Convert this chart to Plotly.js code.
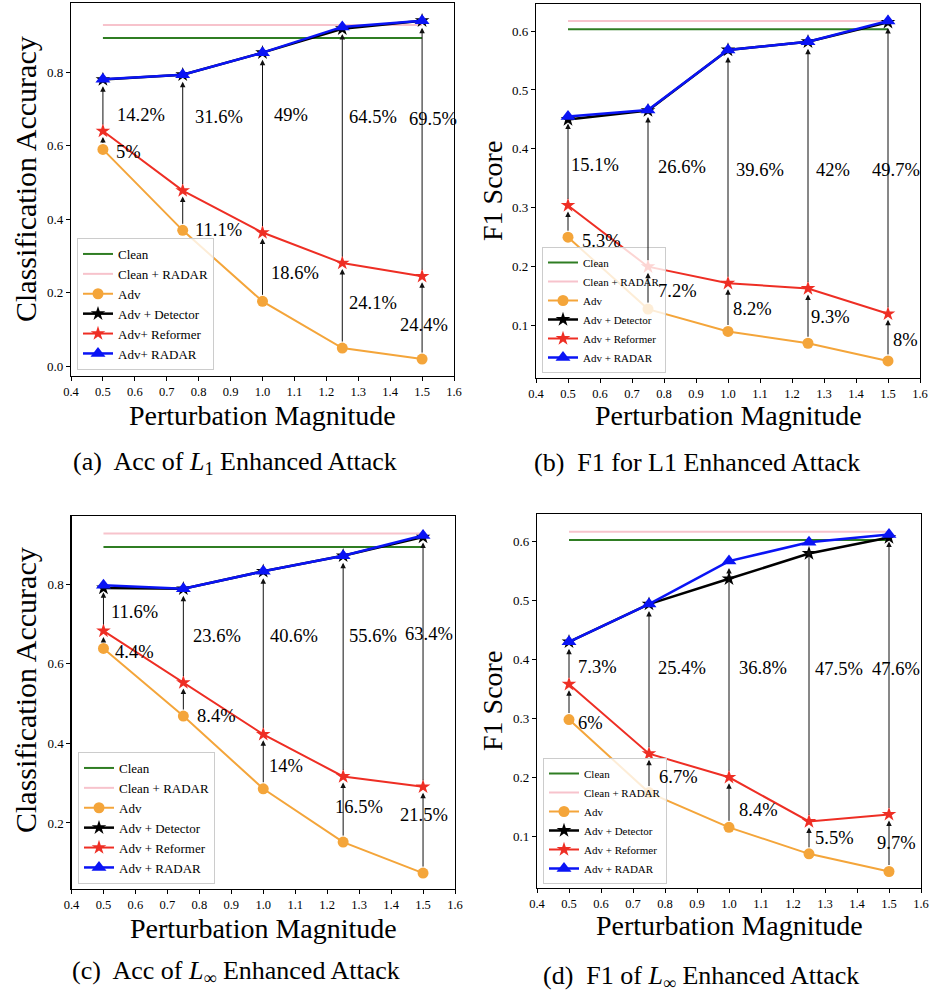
<!DOCTYPE html>
<html>
<head>
<meta charset="utf-8">
<script src="https://cdn.plot.ly/plotly-3.0.1.min.js"></script>
<style>
html,body{margin:0;padding:0;background:#fff;}
#chart{width:932px;height:993px;}
</style>
</head>
<body>
<div id="chart"></div>
<script>
// ---------------- DATA ----------------
const magnitudes = [0.5, 0.75, 1.0, 1.25, 1.5];

// (a) Acc of L1 Enhanced Attack
const aClean = 0.893, aCleanRadar = 0.928;
const aAdv      = [0.590, 0.370, 0.177, 0.050, 0.020];
const aDetector = [0.780, 0.793, 0.853, 0.918, 0.940];
const aReformer = [0.640, 0.478, 0.364, 0.281, 0.245];
const aRadar    = [0.781, 0.793, 0.853, 0.923, 0.940];
const aGainRef   = ['5%', '11.1%', '18.6%', '24.1%', '24.4%'];
const aGainRadar = ['14.2%', '31.6%', '49%', '64.5%', '69.5%'];

// (b) F1 for L1 Enhanced Attack
const bClean = 0.603, bCleanRadar = 0.617;
const bAdv      = [0.250, 0.128, 0.090, 0.070, 0.040];
const bDetector = [0.450, 0.465, 0.568, 0.582, 0.615];
const bReformer = [0.304, 0.200, 0.172, 0.163, 0.120];
const bRadar    = [0.455, 0.466, 0.568, 0.582, 0.617];
const bGainRef   = ['5.3%', '7.2%', '8.2%', '9.3%', '8%'];
const bGainRadar = ['15.1%', '26.6%', '39.6%', '42%', '49.7%'];

// (c) Acc of L-inf Enhanced Attack
const cClean = 0.894, cCleanRadar = 0.928;
const cAdv      = [0.639, 0.469, 0.286, 0.152, 0.074];
const cDetector = [0.791, 0.789, 0.833, 0.872, 0.919];
const cReformer = [0.683, 0.553, 0.423, 0.317, 0.291];
const cRadar    = [0.798, 0.789, 0.833, 0.872, 0.923];
const cGainRef   = ['4.4%', '8.4%', '14%', '16.5%', '21.5%'];
const cGainRadar = ['11.6%', '23.6%', '40.6%', '55.6%', '63.4%'];

// (d) F1 of L-inf Enhanced Attack
const dClean = 0.603, dCleanRadar = 0.617;
const dAdv      = [0.298, 0.174, 0.115, 0.070, 0.040];
const dDetector = [0.430, 0.494, 0.537, 0.580, 0.607];
const dReformer = [0.358, 0.240, 0.200, 0.125, 0.137];
const dRadar    = [0.430, 0.494, 0.567, 0.599, 0.612];
const dGainRef   = ['6%', '6.7%', '8.4%', '5.5%', '9.7%'];
const dGainRadar = ['7.3%', '25.4%', '36.8%', '47.5%', '47.6%'];

const xTickLabels = ['0.4','0.5','0.6','0.7','0.8','0.9','1.0','1.1','1.2','1.3','1.4','1.5','1.6'];

// ---------------- LAYOUT (positions / styles) ----------------
const FONT = "'Liberation Serif', 'Times New Roman', serif";
const W = 932, H = 993;
const px = v => v / W;
const py = v => 1 - v / H;

// label positions (data coords, left anchored) for the gain texts
const labelPos = {
  a: { radar: [[0.538,0.683],[0.782,0.678],[1.03,0.683],[1.265,0.678],[1.453,0.672]],
       ref:   [[0.535,0.584],[0.782,0.370],[1.02,0.255],[1.265,0.173],[1.425,0.113]] },
  b: { radar: [[0.503,0.372],[0.775,0.370],[1.019,0.364],[1.269,0.364],[1.444,0.364]],
       ref:   [[0.5375,0.244],[0.775,0.159],[1.01,0.128],[1.253,0.114],[1.51,0.075]] },
  c: { radar: [[0.518,0.730],[0.773,0.669],[1.014,0.669],[1.263,0.669],[1.436,0.676]],
       ref:   [[0.530,0.629],[0.786,0.469],[1.012,0.344],[1.217,0.240],[1.423,0.221]] },
  d: { radar: [[0.521,0.387],[0.771,0.386],[1.026,0.386],[1.264,0.384],[1.441,0.384]],
       ref:   [[0.521,0.293],[0.774,0.200],[1.024,0.145],[1.262,0.097],[1.457,0.089]] }
};

const panels = [
  { key:'a', s:'',  clean:aClean, cleanR:aCleanRadar, adv:aAdv, det:aDetector, ref:aReformer, radar:aRadar,
    gRef:aGainRef, gRadar:aGainRadar, yrange:[-0.026,0.988], dtick:0.2,
    dom:{x:[71,454], y:[3,376]}, ytitle:'Classification Accuracy', ytSize:30, ytY:179,
    names:['Clean','Clean + RADAR','Adv','Adv + Detector','Adv+ Reformer','Adv+ RADAR'],
    legend:{x:77, y:370, size:13}, caption:'(a)  Acc of <i>L</i><sub>1</sub> Enhanced Attack', capX:235, capY:463,
    ytX:25, xtY:415 },
  { key:'b', s:'2', clean:bClean, cleanR:bCleanRadar, adv:bAdv, det:bDetector, ref:bReformer, radar:bRadar,
    gRef:bGainRef, gRadar:bGainRadar, yrange:[0.011,0.646], dtick:0.1,
    dom:{x:[536,920], y:[4,378]}, ytitle:'F1 Score', ytSize:28, ytY:191,
    names:['Clean','Clean + RADAR','Adv','Adv + Detector','Adv + Reformer','Adv + RADAR'],
    legend:{x:542, y:373, size:11}, caption:'(b)  F1 for L1 Enhanced Attack', capX:697, capY:463,
    ytX:492, xtY:415 },
  { key:'c', s:'3', clean:cClean, cleanR:cCleanRadar, adv:cAdv, det:cDetector, ref:cReformer, radar:cRadar,
    gRef:cGainRef, gRadar:cGainRadar, yrange:[0.034,0.972], dtick:0.2,
    dom:{x:[71.5,455], y:[516,889]}, ytitle:'Classification Accuracy', ytSize:30, ytY:690,
    names:['Clean','Clean + RADAR','Adv','Adv + Detector','Adv + Reformer','Adv + RADAR'],
    legend:{x:78, y:884, size:13}, caption:'(c)  Acc of <i>L</i><sub>∞</sub> Enhanced Attack', capX:236, capY:972,
    ytX:25, xtY:928 },
  { key:'d', s:'4', clean:dClean, cleanR:dCleanRadar, adv:dAdv, det:dDetector, ref:dReformer, radar:dRadar,
    gRef:dGainRef, gRadar:dGainRadar, yrange:[0.012,0.647], dtick:0.1,
    dom:{x:[537,921], y:[514,888]}, ytitle:'F1 Score', ytSize:28, ytY:701,
    names:['Clean','Clean + RADAR','Adv','Adv + Detector','Adv + Reformer','Adv + RADAR'],
    legend:{x:543, y:884, size:11}, caption:'(d)  F1 of <i>L</i><sub>∞</sub> Enhanced Attack', capX:701, capY:977,
    ytX:492, xtY:925 }
];

const COL = { green:'#2f7d23', pink:'#f7c3cc', orange:'#f4a53a', black:'#000000', red:'#ee2e24', blue:'#0a14f5' };

const traces = [];
const annotations = [];
const layout = {
  width: W, height: H,
  margin: {l:0, r:0, t:0, b:0},
  paper_bgcolor:'#fff', plot_bgcolor:'#fff',
  font: {family: FONT, color:'#000'},
  showlegend: true,
  annotations: annotations
};

panels.forEach((p) => {
  const xa = 'x' + p.s, ya = 'y' + p.s;
  const legName = 'legend' + (p.s || '');
  const xFirst = magnitudes[0], xLast = magnitudes[magnitudes.length - 1];
  const base = { xaxis: xa, yaxis: ya, legend: legName };

  traces.push(Object.assign({ x:[xFirst, xLast], y:[p.clean, p.clean], mode:'lines', name:p.names[0],
    line:{color:COL.green, width:2} }, base));
  traces.push(Object.assign({ x:[xFirst, xLast], y:[p.cleanR, p.cleanR], mode:'lines', name:p.names[1],
    line:{color:COL.pink, width:2} }, base));
  traces.push(Object.assign({ x:magnitudes, y:p.adv, mode:'lines+markers', name:p.names[2],
    line:{color:COL.orange, width:2}, marker:{symbol:'circle', size:11, color:COL.orange} }, base));
  traces.push(Object.assign({ x:magnitudes, y:p.det, mode:'lines+markers', name:p.names[3],
    line:{color:COL.black, width:2.5}, marker:{symbol:'star', size:11, color:COL.black} }, base));
  traces.push(Object.assign({ x:magnitudes, y:p.ref, mode:'lines+markers', name:p.names[4],
    line:{color:COL.red, width:2}, marker:{symbol:'star', size:11, color:COL.red} }, base));
  traces.push(Object.assign({ x:magnitudes, y:p.radar, mode:'lines+markers', name:p.names[5],
    line:{color:COL.blue, width:2.5}, marker:{symbol:'triangle-up', size:13, color:COL.blue} }, base));

  const axCommon = { showline:true, mirror:true, linecolor:'#000', linewidth:1.2, ticks:'outside', ticklen:4,
    tickcolor:'#000', tickwidth:1, showgrid:false, zeroline:false };
  layout['xaxis' + p.s] = Object.assign({}, axCommon, {
    domain:[px(p.dom.x[0]), px(p.dom.x[1])], anchor: ya, range:[0.4, 1.6],
    tickmode:'array', tickvals: xTickLabels.map(Number), ticktext: xTickLabels,
    tickfont:{family:FONT, size:12.5, color:'#000'} });
  layout['yaxis' + p.s] = Object.assign({}, axCommon, {
    domain:[py(p.dom.y[1]), py(p.dom.y[0])], anchor: xa, range:p.yrange,
    tick0:0, dtick:p.dtick, tickformat:'.1f',
    tickfont:{family:FONT, size:13, color:'#000'} });

  layout[legName] = {
    x: px(p.legend.x), y: py(p.legend.y), xanchor:'left', yanchor:'bottom',
    xref:'paper', yref:'paper',
    bgcolor:'rgba(255,255,255,0.8)', bordercolor:'#cccccc', borderwidth:1,
    font:{family:FONT, size:p.legend.size, color:'#000'}, tracegroupgap:0, itemwidth:30
  };

  // arrows and gain labels
  const pos = labelPos[p.key];
  magnitudes.forEach((m, i) => {
    annotations.push({ xref:xa, yref:ya, axref:xa, ayref:ya, x:m, y:p.ref[i], ax:m, ay:p.adv[i],
      text:'', showarrow:true, arrowhead:2, arrowsize:1.1, arrowwidth:1, arrowcolor:'#111',
      standoff:6, startstandoff:5 });
    annotations.push({ xref:xa, yref:ya, axref:xa, ayref:ya, x:m, y:p.radar[i], ax:m, ay:p.ref[i],
      text:'', showarrow:true, arrowhead:2, arrowsize:1.1, arrowwidth:1, arrowcolor:'#111',
      standoff:7, startstandoff:5 });
    annotations.push({ xref:xa, yref:ya, x:pos.ref[i][0], y:pos.ref[i][1], text:p.gRef[i], showarrow:false,
      xanchor:'left', yanchor:'middle', font:{family:FONT, size:18.5, color:'#000'} });
    annotations.push({ xref:xa, yref:ya, x:pos.radar[i][0], y:pos.radar[i][1], text:p.gRadar[i], showarrow:false,
      xanchor:'left', yanchor:'middle', font:{family:FONT, size:18.5, color:'#000'} });
  });

  // axis titles
  const cx = (p.dom.x[0] + p.dom.x[1]) / 2;
  annotations.push({ xref:'paper', yref:'paper', x:px(cx), y:py(p.xtY), text:'Perturbation Magnitude',
    showarrow:false, xanchor:'center', yanchor:'middle', font:{family:FONT, size:28, color:'#000'} });
  annotations.push({ xref:'paper', yref:'paper', x:px(p.ytX), y:py(p.ytY), text:p.ytitle, textangle:-90,
    showarrow:false, xanchor:'center', yanchor:'middle', font:{family:FONT, size:p.ytSize, color:'#000'} });
  // caption
  annotations.push({ xref:'paper', yref:'paper', x:px(p.capX), y:py(p.capY), text:p.caption,
    showarrow:false, xanchor:'center', yanchor:'middle', font:{family:FONT, size:26, color:'#000'} });
});

Plotly.newPlot('chart', traces, layout, {staticPlot:true, displayModeBar:false});
</script>
</body>
</html>
